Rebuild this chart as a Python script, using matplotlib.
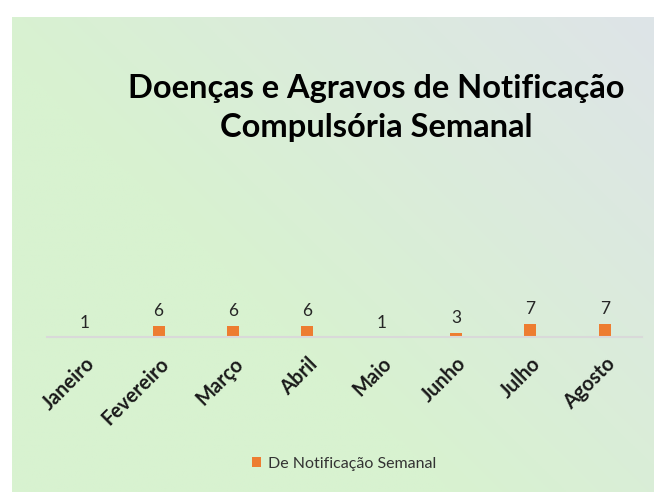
import numpy as np
import matplotlib.pyplot as plt

months = ["Janeiro", "Fevereiro", "Março", "Abril", "Maio", "Junho", "Julho", "Agosto"]
values = [1, 6, 6, 6, 1, 3, 7, 7]
series_name = "De Notificação Semanal"
title = "Doenças e Agravos de Notificação\nCompulsória Semanal"

bar_color = "#ED7D31"
font = ["Lato", "DejaVu Sans"]

fig = plt.figure(figsize=(6.54, 4.92), dpi=100)
fig.patch.set_facecolor("white")

# gradient background of the chart area
bg = fig.add_axes([12 / 654, 0, 1 - 12 / 654, (492 - 17) / 492])
nx, ny = 300, 220
xx, yy = np.meshgrid(np.linspace(0, 1, nx), np.linspace(0, 1, ny))
t = np.clip((xx * 0.8 + yy * 0.6) - 0.55, 0, 1) / 0.85
green = np.array([216, 242, 208]) / 255
grey = np.array([222, 228, 232]) / 255
img = green[None, None, :] * (1 - t[..., None]) + grey[None, None, :] * t[..., None]
bg.imshow(img, origin="lower", aspect="auto", extent=[0, 1, 0, 1])
bg.axis("off")

# plot area
ax = fig.add_axes([47 / 654, (492 - 337) / 492, (642 - 47) / 654, (337 - 170) / 492])
ax.patch.set_alpha(0)
x = np.arange(len(months))
base = 1.2
bars = ax.bar(x, [v - base for v in values], bottom=base, width=0.16,
              color=bar_color, label=series_name)
ax.set_xlim(-0.5, len(months) - 0.5)
ax.set_ylim(base, 75)
for xi, v in zip(x, values):
    ax.annotate(str(v), (xi, v), xytext=(0, 5), textcoords="offset points",
                ha="center", va="bottom", fontsize=12.5, color="#262626", family=font)

for s in ["top", "right", "left"]:
    ax.spines[s].set_visible(False)
ax.spines["bottom"].set_color("#d9d9d9")
ax.spines["bottom"].set_linewidth(1.5)
ax.set_yticks([])
ax.set_xticks(x)
ax.set_xticklabels(months, rotation=45, ha="right", rotation_mode="anchor",
                   fontsize=14.5, fontweight="bold", color="#1a1a1a", family=font)
ax.tick_params(axis="x", length=0, pad=12)

fig.text(376 / 654, 1 - 108 / 492, title, ha="center", va="center",
         fontsize=23.5, fontweight="bold", color="black", family=font,
         linespacing=1.45)

leg = fig.legend(handles=[bars], labels=[series_name], loc="center",
                 bbox_to_anchor=(344 / 654, 1 - 464 / 492), frameon=False,
                 handlelength=0.6, handleheight=0.6, handletextpad=0.4,
                 prop={"family": font, "size": 11.5})
for txt in leg.get_texts():
    txt.set_color("#333333")

fig.savefig("out.png", dpi=100)
